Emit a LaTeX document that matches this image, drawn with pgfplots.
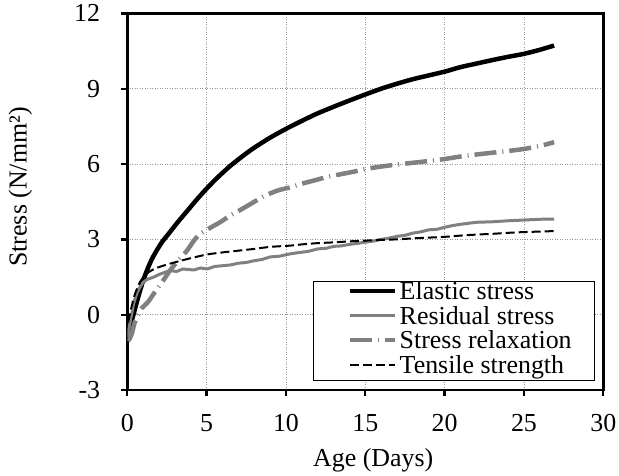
\documentclass[border=0pt]{standalone}
\usepackage{fontspec}
\setmainfont{Liberation Serif}
\usepackage{pgfplots}
\pgfplotsset{compat=1.18}
\definecolor{mygray}{RGB}{128,128,128}
\definecolor{gridgray}{RGB}{150,150,150}
\newcommand{\chartfont}{\fontsize{26}{28}\selectfont}

\begin{document}
\begin{tikzpicture}
\path[use as bounding box] (-127.3bp,-86bp) rectangle (491.7bp,390bp);
\begin{axis}[
    scale only axis,
    width=476bp, height=376.6bp,
    xmin=0, xmax=30, ymin=-3, ymax=12,
    xtick={0,5,...,30}, ytick={-3,0,...,12},
    tick pos=left, tick align=outside,
    major tick length=6bp,
    every tick/.style={black, line width=2.3bp},
    axis line style={black, line width=2.5bp},
    grid=major,
    grid style={gridgray, line width=0.8bp, dash pattern=on 1bp off 1.5bp},
    /pgf/number format/assume math mode=true,
    tick label style={font=\chartfont},
    xticklabel style={inner sep=0pt, anchor=north},
    yticklabel style={inner sep=0pt, anchor=east},
    xticklabel shift=18bp,
    yticklabel shift=21bp,
    xlabel={Age (Days)},
    ylabel={Stress (N/mm²)},
    every axis x label/.style={at={(axis description cs:0.5168,-0.186)}, anchor=center, font=\chartfont},
    every axis y label/.style={at={(axis description cs:-0.2248,0.539)}, rotate=90, anchor=center, font=\chartfont},
    legend style={at={(rel axis cs:1,0)}, anchor=south east, xshift=-8bp, yshift=9bp,
        draw=black, line width=1.3bp, font=\chartfont,
        inner xsep=21bp, inner ysep=0.5bp, row sep=0bp,
        nodes={inner xsep=2bp, inner ysep=1bp, text height=17bp, text depth=5.5bp}},
    legend cell align=left,
    legend image code/.code={\path (0bp,0bp); \draw[#1] (14bp,0.3em) -- (59bp,0.3em);},
]
% Elastic stress
\addplot[black, line width=4.5bp, line join=round, smooth, tension=0.5] coordinates {
(0.05,-0.85) (0.15,-0.6) (0.3,-0.2) (0.45,0.15) (0.6,0.5) (0.8,0.95) (1.0,1.35)
(1.2,1.7) (1.5,2.15) (1.8,2.5) (2.2,2.9) (2.7,3.3) (3.2,3.7) (3.8,4.15)
(4.4,4.6) (5.0,5.02) (5.7,5.47) (6.5,5.93) (7.3,6.33) (8.0,6.65) (9,7.05)
(10,7.4) (11,7.72) (12,8.02) (13,8.28) (14,8.53) (15,8.77) (16,9.0) (17,9.2)
(18,9.38) (19,9.53) (20,9.68) (21,9.86) (22,10.0) (23,10.14) (24,10.27)
(25,10.39) (26,10.55) (26.9,10.72)
};
\addlegendentry{Elastic stress}
% Residual stress
\addplot[mygray, line width=3bp, line join=round] coordinates {
(0.05,-0.9) (0.1,-0.6) (0.2,-0.2) (0.28,0.03) (0.4,0.45) (0.59,0.83) (0.8,1.1)
(1.0,1.29) (1.3,1.42) (1.64,1.49) (2.0,1.6) (2.69,1.76) (3.1,1.72) (3.5,1.82)
(4.2,1.78) (4.6,1.86) (5.04,1.82) (5.5,1.92) (6,1.95) (6.5,1.98) (7,2.05)
(7.5,2.08) (8,2.15) (8.5,2.2) (9,2.3) (9.6,2.33) (10.25,2.42) (10.88,2.48)
(11.4,2.52) (12,2.62) (12.5,2.64) (13,2.72) (13.5,2.74) (14,2.8) (14.5,2.84)
(15,2.89) (15.5,2.93) (16,3.0) (16.5,3.05) (17,3.12) (17.5,3.16) (18,3.25)
(18.5,3.3) (19,3.38) (19.5,3.4) (20,3.48) (20.5,3.55) (21,3.6) (21.5,3.64)
(22,3.68) (23,3.7) (24,3.74) (25,3.77) (26,3.8) (26.9,3.81)
};
\addlegendentry{Residual stress}
% Stress relaxation
\addplot[mygray, line width=4.5bp, smooth, tension=0.4, dash pattern=on 22bp off 6bp on 1bp off 6bp] coordinates {
(0.05,-1.05) (0.15,-0.95) (0.28,-0.77) (0.45,-0.35) (0.67,0.0) (0.9,0.25)
(1.3,0.5) (1.66,0.83) (2.2,1.3) (2.69,1.76) (3.2,2.15) (3.76,2.55) (4.2,2.95)
(4.58,3.21) (5.2,3.45) (5.84,3.68) (6.5,3.95) (7.2,4.2) (7.96,4.48) (8.7,4.75)
(9.5,4.95) (10.25,5.07) (10.9,5.2) (11.8,5.35) (12.7,5.5) (13.5,5.6) (14.3,5.7)
(15,5.8) (16,5.9) (17,5.98) (18,6.05) (19,6.12) (20,6.2) (21,6.3) (22,6.38)
(23,6.45) (24,6.52) (25,6.6) (26,6.72) (26.9,6.87)
};
\addlegendentry{Stress relaxation}
% Tensile strength
\addplot[black, line width=2bp, smooth, tension=0.5, dash pattern=on 9bp off 4bp] coordinates {
(0.05,-0.3) (0.17,0.03) (0.3,0.4) (0.49,0.83) (0.8,1.3) (1.22,1.63) (1.8,1.85)
(2.69,2.03) (3.5,2.17) (4.2,2.28) (5.04,2.4) (6,2.48) (7,2.55) (8,2.62) (9,2.7)
(10.25,2.75) (11,2.8) (12,2.85) (13,2.88) (14,2.92) (15,2.95) (16,2.98) (17,3.0)
(18,3.04) (19,3.07) (20,3.1) (21,3.15) (22,3.19) (23,3.22) (24,3.26) (25,3.29)
(26,3.31) (26.9,3.33)
};
\addlegendentry{Tensile strength}
\end{axis}
\end{tikzpicture}
\end{document}
